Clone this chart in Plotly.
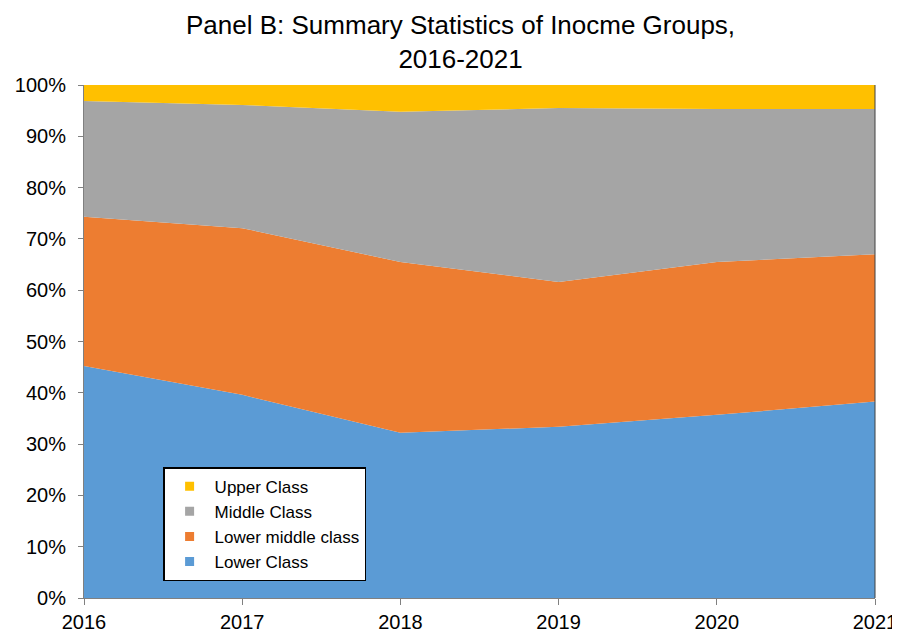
"""Stacked area chart of income group shares, 2016-2021."""

import plotly.graph_objects as go

YEARS = [2016, 2017, 2018, 2019, 2020, 2021]

LOWER_CLASS = [45.2, 39.6, 32.2, 33.4, 35.7, 38.3]
LOWER_MIDDLE_CLASS = [29.1, 32.5, 33.3, 28.2, 29.8, 28.7]
MIDDLE_CLASS = [22.6, 24.0, 29.3, 33.9, 29.8, 28.3]
UPPER_CLASS = [3.1, 3.9, 5.2, 4.5, 4.7, 4.7]

Y_TICKS = [0, 10, 20, 30, 40, 50, 60, 70, 80, 90, 100]

SERIES = [
    ("Lower Class", LOWER_CLASS, "#5B9BD5"),
    ("Lower middle class", LOWER_MIDDLE_CLASS, "#ED7D31"),
    ("Middle Class", MIDDLE_CLASS, "#A5A5A5"),
    ("Upper Class", UPPER_CLASS, "#FFC000"),
]

FONT = "Liberation Sans, Arial, sans-serif"

# the page body adds an 8px offset, so margins are shifted to compensate
MARGIN = {"l": 76, "r": 33, "t": 77, "b": 46, "autoexpand": False}
PLOT_HEIGHT = 636 - MARGIN["t"] - MARGIN["b"]

figure = go.Figure()
for name, values, color in SERIES:
    figure.add_trace(
        go.Scatter(
            x=YEARS,
            y=values,
            name=name,
            mode="lines",
            stackgroup="income",
            groupnorm="percent",
            line={"width": 0, "color": color},
            fillcolor=color,
            showlegend=False,
        )
    )

# legend entries with square swatches
for name, _values, color in SERIES:
    figure.add_trace(
        go.Scatter(
            x=[None],
            y=[None],
            name=name,
            mode="markers",
            marker={"symbol": "square", "size": 9, "color": color},
            showlegend=True,
        )
    )

figure.update_layout(
    width=900,
    height=636,
    margin=MARGIN,
    paper_bgcolor="white",
    plot_bgcolor="white",
    font={"family": FONT, "color": "#000000", "size": 20},
    showlegend=True,
    legend={
        "x": 0.1,
        "y": 0.255,
        "xanchor": "left",
        "yanchor": "top",
        "bgcolor": "white",
        "bordercolor": "black",
        "borderwidth": 1.5,
        "traceorder": "reversed",
        "font": {"size": 17, "family": FONT},
        "itemwidth": 40,
        "tracegroupgap": 0,
    },
    xaxis={
        "range": [2016, 2021],
        "tickvals": YEARS,
        "ticktext": [str(year) for year in YEARS],
        "ticks": "outside",
        "ticklen": 6,
        "tickcolor": "#808080",
        "showline": True,
        "linecolor": "#808080",
        "showgrid": False,
        "zeroline": False,
        "automargin": False,
        "tickfont": {"size": 20},
    },
    yaxis={
        "range": [0, 100],
        "tickvals": Y_TICKS,
        "ticktext": [f"{tick}%" for tick in Y_TICKS],
        "ticks": "outside",
        "ticklen": 5,
        "tickcolor": "#808080",
        "showline": True,
        "linecolor": "#808080",
        "showgrid": False,
        "zeroline": False,
        "automargin": False,
        "ticklabelstandoff": 8,
        "tickfont": {"size": 20},
    },
)

# two-line title placed as an annotation
figure.add_annotation(
    text="Panel B: Summary Statistics of Inocme Groups,<br>2016-2021",
    xref="paper",
    yref="paper",
    x=0.4766,
    y=1.0 + MARGIN["t"] / PLOT_HEIGHT,
    xanchor="center",
    yanchor="top",
    showarrow=False,
    font={"size": 26, "family": FONT},
)

# thin right border, as in the original chart
figure.add_shape(
    type="line",
    xref="paper",
    yref="paper",
    x0=1,
    x1=1,
    y0=0,
    y1=1,
    line={"color": "#404040", "width": 1},
)

figure.write_html("out.html")
